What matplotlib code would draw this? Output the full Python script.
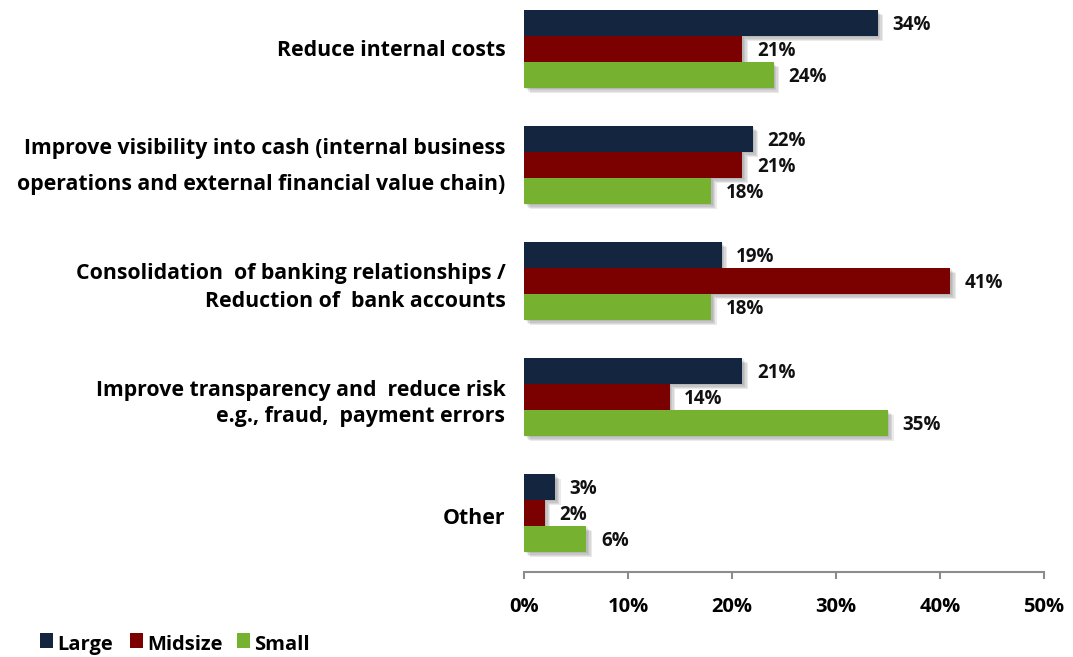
import numpy as np
import matplotlib.pyplot as plt
import matplotlib.patheffects as pe
import matplotlib.transforms as mtransforms
from matplotlib.patches import Rectangle

plt.rcParams['font.family'] = ['Open Sans', 'DejaVu Sans']
plt.rcParams['font.weight'] = 'bold'

categories = [
    'Reduce internal costs',
    'Improve visibility into cash (internal business\noperations and external financial value chain)',
    'Consolidation  of banking relationships /\nReduction of  bank accounts',
    'Improve transparency and  reduce risk\ne.g., fraud,  payment errors',
    'Other',
]
large = [34, 22, 19, 21, 3]
midsize = [21, 21, 41, 14, 2]
small = [24, 18, 18, 35, 6]

series = [('Large', large, '#14253f'),
          ('Midsize', midsize, '#7b0000'),
          ('Small', small, '#76b22f')]

fig = plt.figure(figsize=(10.73, 6.57), dpi=100)
ax = fig.add_axes([0.4884, 0.1294, 0.4846, 0.8706])

y = np.arange(len(categories))
h = 0.224
# soft drop shadow built from a few faint offset copies
shadow = [pe.SimplePatchShadow(offset=(d, -d), alpha=0.10, shadow_rgbFace='#333333')
          for d in (1, 2, 3, 4)] + [pe.Normal()]

for k, (name, vals, color) in enumerate(series):
    pos = y + (k - 1) * h
    bars = ax.barh(pos, vals, height=h, color=color, label=name, zorder=3)
    for b in bars:
        b.set_path_effects(shadow)
    for p, v in zip(pos, vals):
        ax.text(v + 1.4, p + 0.02, f'{v}%', va='center', ha='left',
                fontsize=13.5, fontweight='bold', color='#111111')

ax.set_xlim(0, 50)
ax.set_ylim(4.51, -0.42)
ax.set_xticks(np.arange(0, 51, 10))
ax.set_xticklabels([f'{t}%' for t in range(0, 51, 10)], fontsize=14.5, fontweight='bold')
ax.tick_params(axis='x', direction='out', length=5, width=1.5, color='#8c8c8c', pad=13)
ax.set_yticks([])
for s in ['top', 'right', 'left']:
    ax.spines[s].set_visible(False)
ax.spines['bottom'].set_color('#8c8c8c')
ax.spines['bottom'].set_linewidth(1.5)

# category labels, last baseline placed relative to the group centre
trans = mtransforms.blended_transform_factory(ax.transAxes, ax.transData)
shifts = [0.065, 0.215, 0.225, 0.215, 0.095]
spacings = [1.2, 1.94, 1.42, 1.32, 1.2]
for yc, lab, dy, ls in zip(y, categories, shifts, spacings):
    ax.text(-0.036, yc + dy, lab, transform=trans, ha='right', va='baseline',
            multialignment='right', fontsize=15.3, fontweight='bold', linespacing=ls)

# legend along the bottom left
lx = [0.037, 0.121, 0.221]
for (name, vals, color), x0 in zip(series, lx):
    fig.patches.append(Rectangle((x0, 0.014), 0.012, 0.022, transform=fig.transFigure,
                                 facecolor=color, edgecolor='none'))
    fig.text(x0 + 0.016, 0.019, name, fontsize=14.5, fontweight='bold', va='center', ha='left')

fig.savefig('out.png', dpi=100, facecolor='white')
